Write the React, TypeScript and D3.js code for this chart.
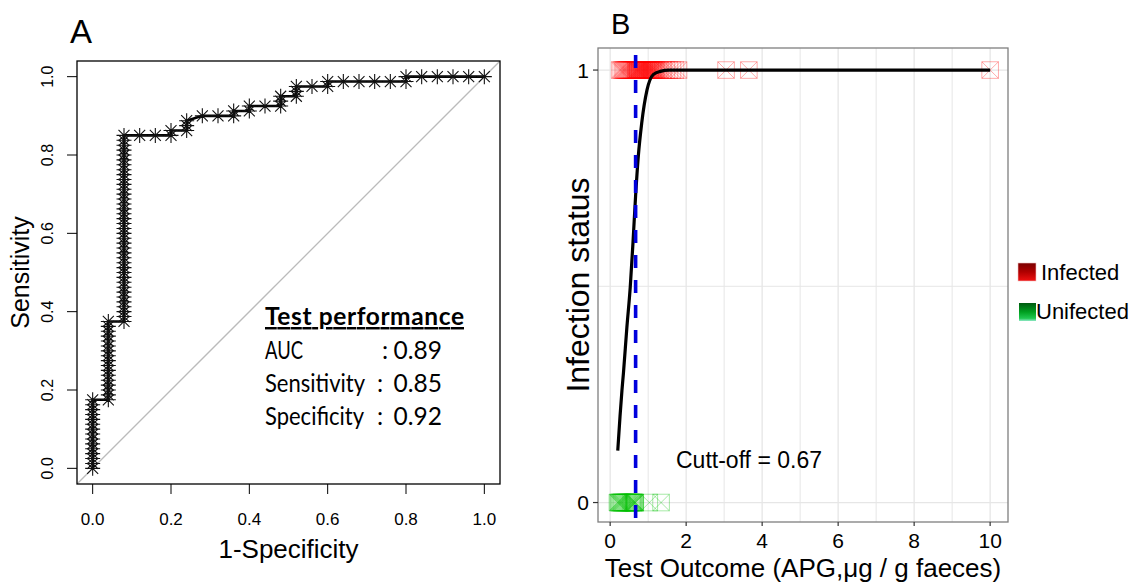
import React from "react";
import * as d3 from "d3";

// ---------- Panel A data (ROC curve) ----------
const rocPoints: [number, number][] = [
  [0, 0], [0, 0.0125], [0, 0.025], [0, 0.0375], [0, 0.05], [0, 0.0625], [0, 0.075], [0, 0.0875],
  [0, 0.1], [0, 0.1125], [0, 0.125], [0, 0.1375], [0, 0.15], [0, 0.1625], [0, 0.175],
  [0.04, 0.175], [0.04, 0.1875], [0.04, 0.2], [0.04, 0.2125], [0.04, 0.225], [0.04, 0.2375],
  [0.04, 0.25], [0.04, 0.2625], [0.04, 0.275], [0.04, 0.2875], [0.04, 0.3], [0.04, 0.3125],
  [0.04, 0.325], [0.04, 0.3375], [0.04, 0.35], [0.04, 0.3625], [0.04, 0.375],
  [0.08, 0.375], [0.08, 0.3875], [0.08, 0.4], [0.08, 0.4125], [0.08, 0.425], [0.08, 0.4375],
  [0.08, 0.45], [0.08, 0.4625], [0.08, 0.475], [0.08, 0.4875], [0.08, 0.5], [0.08, 0.5125],
  [0.08, 0.525], [0.08, 0.5375], [0.08, 0.55], [0.08, 0.5625], [0.08, 0.575], [0.08, 0.5875],
  [0.08, 0.6], [0.08, 0.6125], [0.08, 0.625], [0.08, 0.6375], [0.08, 0.65], [0.08, 0.6625],
  [0.08, 0.675], [0.08, 0.6875], [0.08, 0.7], [0.08, 0.7125], [0.08, 0.725], [0.08, 0.7375],
  [0.08, 0.75], [0.08, 0.7625], [0.08, 0.775], [0.08, 0.7875], [0.08, 0.8], [0.08, 0.8125],
  [0.08, 0.825], [0.08, 0.8375], [0.08, 0.85],
  [0.12, 0.85], [0.16, 0.85], [0.2, 0.85], [0.2, 0.8625], [0.24, 0.8625], [0.24, 0.875],
  [0.24, 0.8875], [0.28, 0.9], [0.32, 0.9], [0.36, 0.9], [0.36, 0.9125], [0.4, 0.9125],
  [0.4, 0.925], [0.44, 0.925], [0.48, 0.925], [0.48, 0.9375], [0.48, 0.95], [0.52, 0.95],
  [0.52, 0.9625], [0.52, 0.975], [0.56, 0.975], [0.6, 0.975], [0.6, 0.9875], [0.64, 0.9875],
  [0.68, 0.9875], [0.72, 0.9875], [0.76, 0.9875], [0.8, 0.9875], [0.8, 1], [0.84, 1],
  [0.88, 1], [0.92, 1], [0.96, 1], [1, 1],
];
const rocTicks = [0, 0.2, 0.4, 0.6, 0.8, 1.0];
const perfLabels = ["AUC", "Sensitivity", "Specificity"];
const perfValues = ["0.89", "0.85", "0.92"];

// ---------- Panel B data ----------
const infectedOutcome = [
  0.25, 0.29, 0.33, 0.36, 0.39, 0.42, 0.45, 0.48, 0.51, 0.54, 0.57, 0.6, 0.63, 0.66,
  0.68, 0.7, 0.72, 0.73, 0.75, 0.77, 0.78, 0.8, 0.82, 0.84, 0.85, 0.87, 0.89, 0.9, 0.92,
  0.94, 0.95, 0.97, 0.99, 1.0, 1.02, 1.04, 1.05, 1.07, 1.09, 1.1, 1.12, 1.14, 1.16, 1.18,
  1.2, 1.23, 1.27, 1.32, 1.4, 1.48, 1.56, 1.64, 1.72, 1.8, 3.05, 3.65, 10.0,
];
const uninfectedOutcome = [
  0.19, 0.21, 0.23, 0.25, 0.27, 0.29, 0.31, 0.33, 0.36, 0.39, 0.42, 0.45, 0.48, 0.51,
  0.54, 0.56, 0.58, 0.6, 0.62, 0.63, 0.65, 0.66, 0.66, 1.03, 1.34,
];
const fitX = [0.2, 0.26, 0.31, 0.35, 0.44, 0.53, 0.6, 0.67, 0.74, 0.83, 0.97, 1.14, 1.32, 1.55, 1.9, 3, 5, 7.5, 10];
const fitY = [0.12, 0.2, 0.259, 0.3, 0.405, 0.5, 0.6, 0.71, 0.8, 0.877, 0.954, 0.99, 0.997, 1.0, 1.0, 1, 1, 1, 1];
const cutoff = 0.67;
const xTicksB = [0, 2, 4, 6, 8, 10];
const xGridB = [0, 1, 2, 3, 4, 5, 6, 7, 8, 9, 10];
const yTicksB = [0, 1];
const yGridB = [0, 0.5, 1];
const legendLabels = ["Infected", "Unifected"];

const SANS = "'Liberation Sans', Arial, sans-serif";

export default function App() {
  // Panel A scales
  const xA = d3.scaleLinear().domain([-0.04, 1.04]).range([77, 500]);
  const yA = d3.scaleLinear().domain([-0.04, 1.04]).range([484, 61]);
  const rocLine = d3
    .line<[number, number]>()
    .x((d) => xA(d[0]))
    .y((d) => yA(d[1]));

  // Panel B scales
  const xB = d3.scaleLinear().domain([-0.32, 10.47]).range([598, 1008]);
  const yB = d3.scaleLinear().domain([-0.045, 1.051]).range([522, 48]);
  const fitLine = d3
    .line<number>()
    .x((_, i) => xB(fitX[i]))
    .y((_, i) => yB(fitY[i]))
    .curve(d3.curveMonotoneX);
  const sq = 8.3;

  const sqX = (cx: number, cy: number) =>
    `M${cx - sq},${cy - sq}h${2 * sq}v${2 * sq}h${-2 * sq}Z` +
    `M${cx - sq},${cy - sq}L${cx + sq},${cy + sq}M${cx - sq},${cy + sq}L${cx + sq},${cy - sq}`;

  const star = (cx: number, cy: number) =>
    `M${cx - 7.5},${cy}h15M${cx},${cy - 7.5}v15M${cx - 5.5},${cy - 5.5}l11,11M${cx - 5.5},${cy + 5.5}l11,-11`;

  const [xa0, xa1] = xA.range();
  const [ya0, ya1] = yA.range();
  const [xb0, xb1] = xB.range();
  const [yb0, yb1] = yB.range();
  const labelLen = [38, 100, 99];

  return (
    <svg
      width={1137}
      height={585}
      style={{ position: "absolute", left: 0, top: 0, background: "#fff" }}
      fontFamily={SANS}
    >
      <defs>
        <linearGradient id="gInf" x1="0" y1="0" x2="0" y2="1">
          <stop offset="0" stopColor="#7a0000" />
          <stop offset="0.5" stopColor="#b00000" />
          <stop offset="1" stopColor="#f01010" />
        </linearGradient>
        <linearGradient id="gUninf" x1="0" y1="0" x2="0" y2="1">
          <stop offset="0" stopColor="#005a10" />
          <stop offset="0.5" stopColor="#00a020" />
          <stop offset="0.85" stopColor="#20c850" />
          <stop offset="1" stopColor="#90e8c8" />
        </linearGradient>
        <clipPath id="clipA">
          <rect x={xa0} y={ya1} width={xa1 - xa0} height={ya0 - ya1} />
        </clipPath>
      </defs>

      {/* ================= Panel A ================= */}
      <text x={70} y={43} fontSize={33}>A</text>
      <line
        x1={xA(-0.04)} y1={yA(-0.04)} x2={xA(1.04)} y2={yA(1.04)}
        stroke="#bbbbbb" strokeWidth={1.3} clipPath="url(#clipA)"
      />
      <rect x={xa0} y={ya1} width={xa1 - xa0} height={ya0 - ya1} fill="none" stroke="#000" strokeWidth={1.3} />
      {rocTicks.map((t) => (
        <g key={"xa" + t}>
          <line x1={xA(t)} x2={xA(t)} y1={ya0} y2={ya0 + 10} stroke="#000" strokeWidth={1} />
          <text x={xA(t)} y={525} fontSize={17} textAnchor="middle">{t.toFixed(1)}</text>
        </g>
      ))}
      {rocTicks.map((t) => (
        <g key={"ya" + t}>
          <line x1={xa0 - 10} x2={xa0} y1={yA(t)} y2={yA(t)} stroke="#000" strokeWidth={1} />
          <text
            transform={`translate(53,${yA(t)}) rotate(-90)`}
            fontSize={16}
            textAnchor="middle"
          >
            {t.toFixed(1)}
          </text>
        </g>
      ))}
      <text x={(xa0 + xa1) / 2} y={558} fontSize={26} textAnchor="middle">1-Specificity</text>
      <text transform={`translate(29,${(ya0 + ya1) / 2}) rotate(-90)`} fontSize={25} textAnchor="middle">
        Sensitivity
      </text>
      <path d={rocLine(rocPoints) || ""} fill="none" stroke="#000" strokeWidth={2.6} />
      <path
        d={rocPoints.map((p) => star(xA(p[0]), yA(p[1]))).join("")}
        fill="none"
        stroke="#111"
        strokeWidth={1.1}
      />
      <g fontFamily="Lato, 'Open Sans', sans-serif" fontSize={24.5}>
        <text x={265} y={325} fontWeight="bold" textLength={199} style={{ textDecoration: "underline" }}>
          Test performance
        </text>
        {perfLabels.map((l, i) => (
          <g key={l}>
            <text x={265} y={359 + i * 33} textLength={labelLen[i]} lengthAdjust="spacingAndGlyphs">{l}</text>
            <text x={i === 0 ? 382 : 377} y={359 + i * 33}>:</text>
            <text x={442} y={359 + i * 33} textAnchor="end">{perfValues[i]}</text>
          </g>
        ))}
      </g>

      {/* ================= Panel B ================= */}
      <text x={611} y={34} fontSize={29}>B</text>
      <rect x={xb0} y={yb1} width={xb1 - xb0} height={yb0 - yb1} fill="#fff" />
      {xGridB.map((g) => (
        <line key={"gx" + g} x1={xB(g)} x2={xB(g)} y1={yb1} y2={yb0} stroke="#e6e6e6" strokeWidth={g % 2 === 0 ? 1.3 : 1} />
      ))}
      {yGridB.map((g) => (
        <line key={"gy" + g} x1={xb0} x2={xb1} y1={yB(g)} y2={yB(g)} stroke="#e6e6e6" strokeWidth={g === 0.5 ? 1 : 1.3} />
      ))}
      <path
        d={uninfectedOutcome.map((v) => sqX(xB(v), yB(0))).join("")}
        fill="none"
        stroke="#00c000"
        strokeOpacity={0.35}
        strokeWidth={1}
      />
      <g>
        {infectedOutcome.map((v, i) => (
          <path key={"inf" + i} d={sqX(xB(v), yB(1))} fill="none" stroke="#ff0000" strokeOpacity={0.33} strokeWidth={1} />
        ))}
      </g>
      <path d={fitLine(fitX) || ""} fill="none" stroke="#000" strokeWidth={3.2} />
      <line
        x1={xB(cutoff)} x2={xB(cutoff)} y1={yb1} y2={yb0}
        stroke="#0000dd" strokeWidth={3.6} strokeDasharray="13 12" strokeDashoffset={-7}
      />
      <rect x={xb0} y={yb1} width={xb1 - xb0} height={yb0 - yb1} fill="none" stroke="#7f7f7f" strokeWidth={1.3} />
      {xTicksB.map((t) => (
        <g key={"xb" + t}>
          <line x1={xB(t)} x2={xB(t)} y1={yb0} y2={yb0 + 4} stroke="#333" strokeWidth={1.2} />
          <text x={xB(t)} y={548} fontSize={21} textAnchor="middle">{t}</text>
        </g>
      ))}
      {yTicksB.map((t) => (
        <g key={"yb" + t}>
          <line x1={xb0 - 5} x2={xb0} y1={yB(t)} y2={yB(t)} stroke="#333" strokeWidth={1.2} />
          <text x={589} y={yB(t)} dy="0.36em" fontSize={21} textAnchor="end">{t}</text>
        </g>
      ))}
      <text x={(xb0 + xb1) / 2} y={577} fontSize={26} textAnchor="middle">
        Test Outcome (APG,μg / g faeces)
      </text>
      <text transform={`translate(589,${(yb0 + yb1) / 2}) rotate(-90)`} fontSize={32} textAnchor="middle">
        Infection status
      </text>
      <text x={676} y={468} fontSize={23}>Cutt-off = {cutoff}</text>

      {/* Legend */}
      <rect x={1018} y={263} width={18} height={18} fill="url(#gInf)" stroke="#f0c0c0" strokeWidth={0.6} />
      <text x={1041} y={280} fontSize={22}>{legendLabels[0]}</text>
      <rect x={1019} y={303} width={17} height={18} fill="url(#gUninf)" />
      <text x={1036} y={319} fontSize={22}>{legendLabels[1]}</text>
    </svg>
  );
}
